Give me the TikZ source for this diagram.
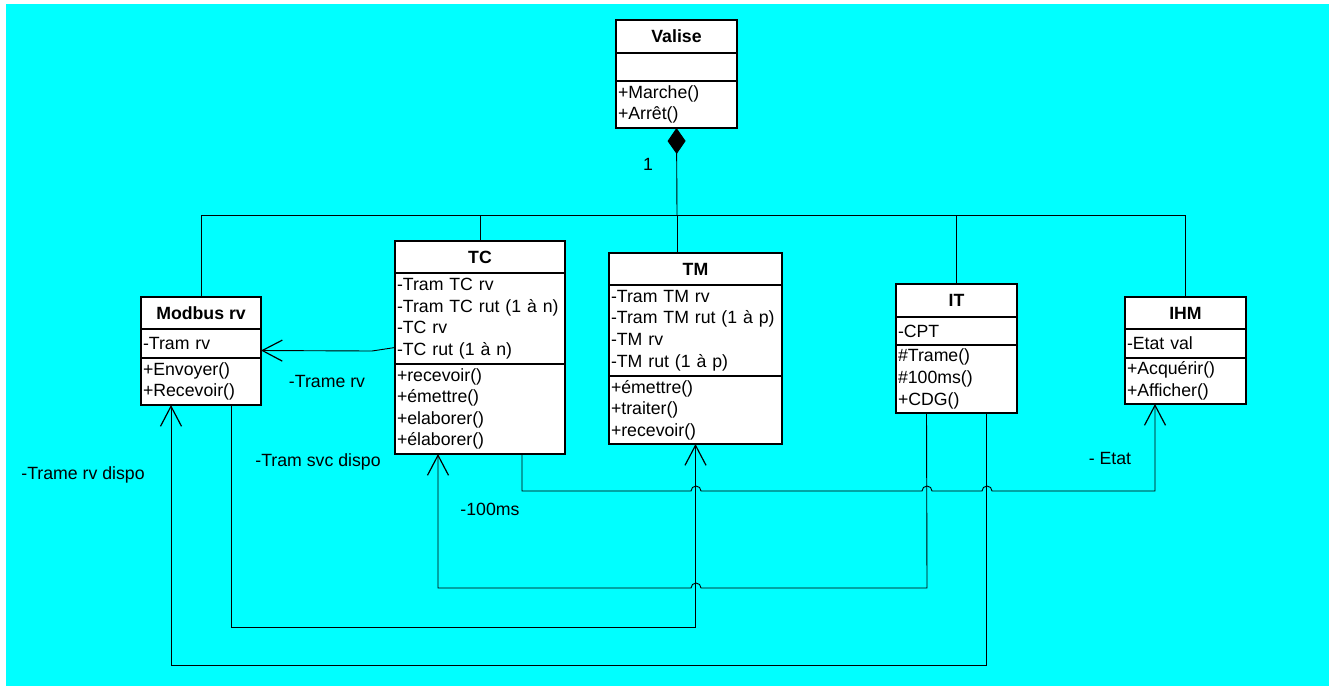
\documentclass[tikz,border=0pt]{standalone}
\usepackage{fontspec}
\setmainfont{Liberation Sans}
\usetikzlibrary{arrows.meta,positioning}
\definecolor{bgCyan}{HTML}{00FFFF}

\begin{document}
\begin{tikzpicture}[
  x=1pt, y=-1pt,
  every node/.style={font=\fontsize{17.7}{21.6}\selectfont, outer sep=0pt},
  ctitle/.style={draw, fill=white, line width=1.2pt, anchor=north west, inner sep=0pt, font=\fontsize{17.7}{21.6}\selectfont\bfseries},
  cpart/.style={draw, fill=white, line width=1.2pt, align=left, inner xsep=2pt, inner ysep=0pt},
  link/.style={draw, line width=0.9pt},
  nav/.style={link, -{Straight Barb[length=20pt,width=21pt,line width=1.2pt]}},
  lab/.style={inner sep=0pt}
]
\useasboundingbox (0,0) rectangle (1332,686);
\fill[white] (0,0) rectangle (1332,686);
\fill[bgCyan] (6,4) rectangle (1329,686);

% classes
\node[ctitle, minimum width=121pt, minimum height=33pt] (valise) at (616,20) {Valise};
\node[cpart, text width=117pt, minimum height=28pt, below=0pt of valise] (valise-a) {};
\node[cpart, text width=117pt, minimum height=47pt, below=0pt of valise-a] (valise-m) {+Marche()\\+Arrêt()};

\node[ctitle, minimum width=120pt, minimum height=32pt] (modbus) at (141,297) {Modbus rv};
\node[cpart, text width=116pt, minimum height=29pt, below=0pt of modbus] (modbus-a) {-Tram rv};
\node[cpart, text width=116pt, minimum height=47pt, below=0pt of modbus-a] (modbus-m) {+Envoyer()\\+Recevoir()};

\node[ctitle, minimum width=170pt, minimum height=32pt] (tc) at (395,241) {TC};
\node[cpart, text width=166pt, minimum height=91pt, below=0pt of tc] (tc-a) {-Tram TC rv\\-Tram TC rut (1 à n)\\-TC rv\\-TC rut (1 à n)};
\node[cpart, text width=166pt, minimum height=90pt, below=0pt of tc-a] (tc-m) {+recevoir()\\+émettre()\\+elaborer()\\+élaborer()};

\node[ctitle, minimum width=173pt, minimum height=32pt] (tm) at (609,253) {TM};
\node[cpart, text width=169pt, minimum height=91pt, below=0pt of tm] (tm-a) {-Tram TM rv\\-Tram TM rut (1 à p)\\-TM rv\\-TM rut (1 à p)};
\node[cpart, text width=169pt, minimum height=68pt, below=0pt of tm-a] (tm-m) {+émettre()\\+traiter()\\+recevoir()};

\node[ctitle, minimum width=121pt, minimum height=33pt] (it) at (896,284) {IT};
\node[cpart, text width=117pt, minimum height=28pt, below=0pt of it] (it-a) {-CPT};
\node[cpart, text width=117pt, minimum height=68pt, below=0pt of it-a] (it-m) {\#Trame()\\\#100ms()\\+CDG()};

\node[ctitle, minimum width=121pt, minimum height=32pt] (ihm) at (1125,297) {IHM};
\node[cpart, text width=117pt, minimum height=29pt, below=0pt of ihm] (ihm-a) {-Etat val};
\node[cpart, text width=117pt, minimum height=46pt, below=0pt of ihm-a] (ihm-m) {+Acquérir()\\+Afficher()};

% composition
\coordinate (bus) at (677,215);
\draw[link, {Diamond[length=26pt,width=18pt]}-] (valise-m.south) -- (bus);
\node[lab] (mult) at (648,164) {1};
\draw[link] (bus) -| (modbus.north);
\draw[link] (bus) -| (tc.north);
\draw[link] (bus) -- (bus |- tm.north);
\draw[link] (bus) -| (it.north);
\draw[link] (bus) -| (ihm.north);

% associations
\draw[nav] ([yshift=-29pt]tc-a.west) -- (372,351) -- ([yshift=-7pt]modbus-a.east);
\draw[nav] ([xshift=127pt]tc-m.south west) -- (522,491) -- (691,491)
  arc[start angle=180, end angle=0, radius=5pt] -- (922,491)
  arc[start angle=180, end angle=0, radius=5pt] -- (982,491)
  arc[start angle=180, end angle=0, radius=5pt] -- (1155,491) -- ([xshift=30pt]ihm-m.south west);
\draw[nav] ([xshift=-30pt]it-m.south) -- (927,588) -- (701,588)
  arc[start angle=0, end angle=180, radius=5pt] -- (438,588) -- ([xshift=43pt]tc-m.south west);
\draw[nav] ([xshift=90pt]modbus-m.south west) -- (231,627) -| (tm-m.south);
\draw[nav] ([xshift=30pt]it-m.south) -- ++(0,252) -| ([xshift=30pt]modbus-m.south west);

% labels
\node[lab] (l-trame) at (327,381) {-Trame rv};
\node[lab] (l-svc) at (318,462) {-Tram svc dispo};
\node[lab] (l-dispo) at (83,475) {-Trame rv dispo};
\node[lab] (l-100) at (490,509) {-100ms};
\node[lab] (l-etat) at (1110,458) {- Etat};
\end{tikzpicture}
\end{document}
